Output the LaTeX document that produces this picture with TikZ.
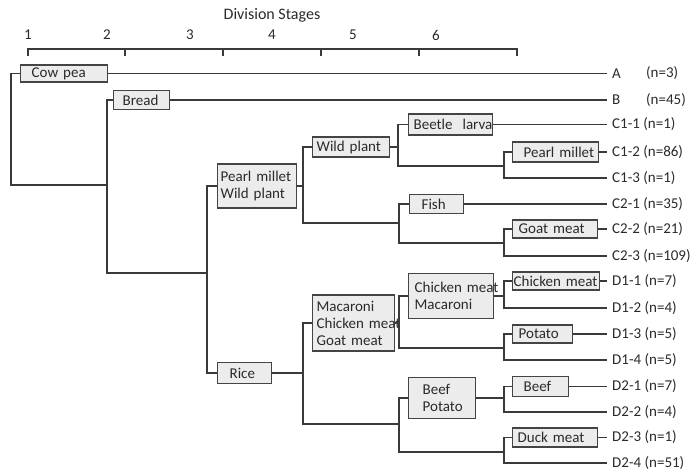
\documentclass[tikz,border=0pt]{standalone}
\usepackage{fontspec}
\setmainfont{Carlito}
\definecolor{linec}{HTML}{3A3A3A}
\definecolor{boxline}{HTML}{444444}
\definecolor{boxfill}{HTML}{ECECEC}
\definecolor{txt}{HTML}{2A2A2A}
\newcommand{\ind}[1]{\hspace*{#1pt}}
\newcommand{\dfont}{\fontsize{15}{17}\selectfont}
\begin{document}
\begin{tikzpicture}[x=1pt,y=-1pt,
  box/.style={draw=boxline, fill=boxfill, line width=1.3pt, inner xsep=0pt, inner ysep=0pt,
              align=left, anchor=west, font=\dfont, text=txt},
  lab/.style={anchor=west, inner xsep=5pt, inner ysep=0pt, font=\dfont, text=txt},
  conn/.style={draw=linec, line width=1.2pt},
  stage/.style={font=\dfont, text=txt, inner sep=0pt}]
\useasboundingbox (0,0) rectangle (697,472);

% axis
\node[stage, font=\fontsize{16}{18}\selectfont] (title) at (272,15) {Division Stages};
\node[stage] (s1) at (28,35) {1};
\node[stage] (s2) at (107,35) {2};
\node[stage] (s3) at (190,35) {3};
\node[stage] (s4) at (272,35) {4};
\node[stage] (s5) at (353,35) {5};
\node[stage] (s6) at (436,35) {6};
\draw[conn] (28,56) -- (28,49) -- (517,49) -- (517,56);
\foreach \t in {125,223,321,419} \draw[conn] (\t,49) -- (\t,56);

% boxes
\node[box, text width=87pt, minimum height=17pt] (cow) at (20,73.5) {\ind{11}Cow pea};
\node[box, text width=56pt, minimum height=19pt] (bread) at (113,100) {\ind{9}Bread};
\node[box, text width=79pt, minimum height=44pt] (pw) at (217,186) {\ind{3}Pearl~millet\\\ind{3}Wild~plant};
\node[box, text width=54pt, minimum height=21pt] (rice) at (217,373) {\ind{12}Rice};
\node[box, text width=77pt, minimum height=20pt] (wild) at (312,147) {\ind{4}Wild~plant};
\node[box, text width=84pt, minimum height=21pt] (beetle) at (408,124.5) {\ind{5}Beetle~~larva};
\node[box, text width=86pt, minimum height=20pt] (pm2) at (512,152) {\ind{11}Pearl~millet};
\node[box, text width=54pt, minimum height=19pt] (fish) at (409,204) {\ind{12}Fish};
\node[box, text width=85pt, minimum height=18pt] (goat) at (512,229) {\ind{6}Goat~meat};
\node[box, text width=82pt, minimum height=56pt] (mcg) at (312,323) {\ind{4}Macaroni\\\ind{4}Chicken~meat\\\ind{4}Goat~meat};
\node[box, text width=85pt, minimum height=45pt] (cm) at (408,296) {\ind{6}Chicken~meat\\\ind{6}Macaroni};
\node[box, text width=87pt, minimum height=18pt] (chick) at (512,281) {\ind{1}Chicken~meat};
\node[box, text width=60pt, minimum height=18pt] (potato) at (512,334) {\ind{6}Potato};
\node[box, text width=67pt, minimum height=41pt] (bp) at (408,398) {\ind{14}Beef\\\ind{14}Potato};
\node[box, text width=56pt, minimum height=20pt] (beef) at (512,386.5) {\ind{11}Beef};
\node[box, text width=85pt, minimum height=19pt] (duck) at (512,437.5) {\ind{5}Duck~meat};

% leaf labels
\node[lab] (la) at (607,73.5) {A};
\node[lab] (na) at (641,73.5) {(n=3)};
\node[lab] (lb) at (607,100) {B};
\node[lab] (nb) at (641,100) {(n=45)};
\node[lab] (c11) at (607,124.5) {C1-1 (n=1)};
\node[lab] (c12) at (607,152) {C1-2 (n=86)};
\node[lab] (c13) at (607,178) {C1-3 (n=1)};
\node[lab] (c21) at (607,204) {C2-1 (n=35)};
\node[lab] (c22) at (607,229) {C2-2 (n=21)};
\node[lab] (c23) at (607,256) {C2-3 (n=109)};
\node[lab] (d11) at (607,281) {D1-1 (n=7)};
\node[lab] (d12) at (607,308) {D1-2 (n=4)};
\node[lab] (d13) at (607,334) {D1-3 (n=5)};
\node[lab] (d14) at (607,360) {D1-4 (n=5)};
\node[lab] (d21) at (607,386.5) {D2-1 (n=7)};
\node[lab] (d22) at (607,412) {D2-2 (n=4)};
\node[lab] (d23) at (607,437.5) {D2-3 (n=1)};
\node[lab] (d24) at (607,463) {D2-4 (n=51)};

% junction coordinates
\coordinate (r) at (11,185);
\coordinate (k2) at (107,185);
\coordinate (k2b) at (107,273);
\coordinate (k3) at (207,273);
\coordinate (a3) at (303,223);
\coordinate (a4) at (399,223);
\coordinate (b4) at (398,166);
\coordinate (b6) at (504,166);
\coordinate (d4) at (399,243);
\coordinate (d6) at (504,243);
\coordinate (e3) at (303,424);
\coordinate (e4) at (399,424);
\coordinate (f4) at (399,348);
\coordinate (f6) at (504,348);
\coordinate (h4) at (399,452);
\coordinate (h6) at (504,452);

% connectors
\draw[conn] (cow.west) -| (r) -- (k2);
\draw[conn] (cow.east) -- (la.west);
\draw[conn] (bread.west) -| (k2b) -- (k3);
\draw[conn] (bread.east) -- (lb.west);
\draw[conn] (pw.west) -| (k3) |- (rice.west);

\draw[conn] (pw.east) -- (pw.east -| a3);
\draw[conn] (wild.west) -| (a3) -- (a4);
\draw[conn] (wild.east) -- (wild.east -| b4);
\draw[conn] (beetle.west) -| (b4) -- (b6);
\draw[conn] (beetle.east) -- (c11.west);
\draw[conn] (pm2.west) -| (b6) |- (c13.west);
\draw[conn] (pm2.east) -- (c12.west);
\draw[conn] (fish.west) -| (d4) -- (d6);
\draw[conn] (fish.east) -- (c21.west);
\draw[conn] (goat.west) -| (d6) |- (c23.west);
\draw[conn] (goat.east) -- (c22.west);

\draw[conn] (rice.east) -- (rice.east -| e3);
\draw[conn] (mcg.west) -| (e3) -- (e4);
\draw[conn] (mcg.east) -- (mcg.east -| f4);
\draw[conn] (cm.west) -| (f4) -- (f6);
\draw[conn] (cm.east) -- (cm.east -| f6);
\draw[conn] (chick.west) -| (d12.west -| f6) -- (d12.west);
\draw[conn] (chick.east) -- (d11.west);
\draw[conn] (potato.west) -| (f6) |- (d14.west);
\draw[conn] (potato.east) -- (d13.west);
\draw[conn] (bp.west) -| (h4) -- (h6);
\draw[conn] (bp.east) -- (bp.east -| h6);
\draw[conn] (beef.west) -| (d22.west -| h6) -- (d22.west);
\draw[conn] (beef.east) -- (d21.west);
\draw[conn] (duck.west) -| (h6) |- (d24.west);
\draw[conn] (duck.east) -- (d23.west);
\end{tikzpicture}
\end{document}
